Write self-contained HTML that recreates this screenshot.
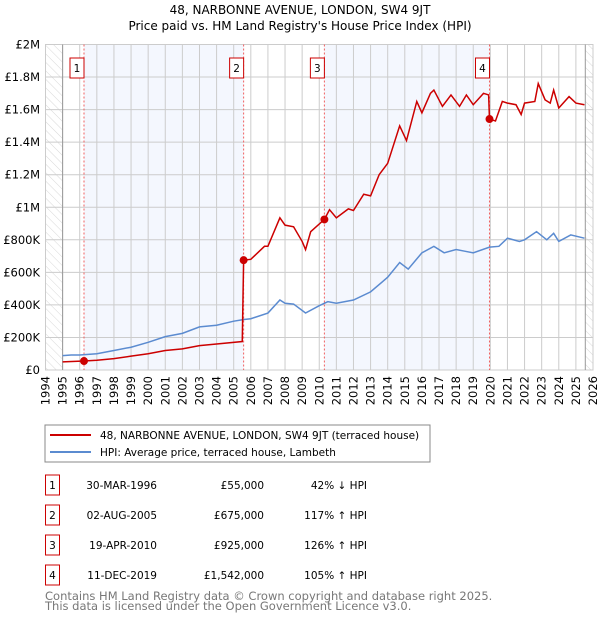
<!DOCTYPE html>
<html><head><meta charset="utf-8"><style>
body{margin:0;background:#fff;font-family:"DejaVu Sans","Liberation Sans",sans-serif;}
svg{display:block}
</style></head><body>
<svg id="c" width="600" height="620" xmlns="http://www.w3.org/2000/svg" font-family="DejaVu Sans, Liberation Sans, sans-serif">
<defs><pattern id="hatch" width="6" height="6" patternUnits="userSpaceOnUse" patternTransform="rotate(-45)"><line x1="0" y1="0" x2="0" y2="6" stroke="#d8d8d8" stroke-width="1"/></pattern></defs>
<text x="300" y="14" text-anchor="middle" font-size="12">48, NARBONNE AVENUE, LONDON, SW4 9JT</text>
<text x="300" y="30" text-anchor="middle" font-size="12">Price paid vs. HM Land Registry's House Price Index (HPI)</text>
<g id="plot"></g>
<rect x="45" y="425" width="385" height="37" fill="none" stroke="#888"/>
<line x1="50" y1="435" x2="91" y2="435" stroke="#cc0000" stroke-width="2"/>
<text x="100" y="439" font-size="10.5">48, NARBONNE AVENUE, LONDON, SW4 9JT (terraced house)</text>
<line x1="50" y1="452" x2="91" y2="452" stroke="#5b8bd0" stroke-width="2"/>
<text x="100" y="456" font-size="10.5">HPI: Average price, terraced house, Lambeth</text>
<g id="tbl" font-size="10.5"></g>
<text x="45" y="600" font-size="11.5" fill="#777">Contains HM Land Registry data © Crown copyright and database right 2025.</text>
<text x="45" y="610" font-size="11.5" fill="#777">This data is licensed under the Open Government Licence v3.0.</text>
</svg>
<script>
const hpiYears=[1995,1995.5,1996,1997,1998,1999,2000,2001,2002,2003,2004,2005,2005.6,2006,2007,2007.7,2008,2008.5,2009.2,2010,2010.5,2011,2012,2013,2014,2014.7,2015.2,2016,2016.7,2017.3,2018,2018.5,2019,2019.95,2020.5,2021,2021.7,2022,2022.7,2023.3,2023.7,2024,2024.7,2025.5];
const hpiValues=[88,92,92,100,120,140,170,205,225,265,275,300,310,315,350,430,410,405,350,395,420,410,430,480,570,660,620,720,760,720,740,730,720,755,760,810,790,800,850,800,840,790,830,810];
const priceYears=[1995,1996.25,1997,1998,1999,2000,2001,2002,2003,2004,2005.5,2005.58,2006,2006.8,2007,2007.7,2008,2008.5,2009,2009.2,2009.5,2010.3,2010.6,2011,2011.7,2012,2012.6,2013,2013.5,2014,2014.7,2015.1,2015.7,2016,2016.5,2016.7,2017.2,2017.7,2018.2,2018.6,2019,2019.6,2019.9,2019.95,2020.3,2020.7,2021,2021.5,2021.8,2022,2022.6,2022.8,2023.2,2023.5,2023.7,2024,2024.6,2025,2025.5];
const priceValues=[50,55,60,70,85,100,120,130,150,160,175,675,680,760,760,935,890,880,790,740,850,925,985,935,990,980,1080,1070,1200,1270,1500,1410,1650,1580,1700,1720,1620,1690,1620,1690,1630,1700,1690,1542,1530,1650,1640,1630,1570,1640,1650,1760,1660,1640,1720,1610,1680,1640,1630];
const saleLabels=["1","2","3","4"];
const saleYears=[1996.25,2005.58,2010.3,2019.95];
const saleValues=[55,675,925,1542];
const saleDates=["30-MAR-1996","02-AUG-2005","19-APR-2010","11-DEC-2019"];
const salePrices=["£55,000","£675,000","£925,000","£1,542,000"];
const saleHpi=["42% ↓ HPI","117% ↑ HPI","126% ↑ HPI","105% ↑ HPI"];
const yTicks=[0,200,400,600,800,1000,1200,1400,1600,1800,2000];
const yTickLabels=["£0","£200K","£400K","£600K","£800K","£1M","£1.2M","£1.4M","£1.6M","£1.8M","£2M"];
const xTicks=[1994,1995,1996,1997,1998,1999,2000,2001,2002,2003,2004,2005,2006,2007,2008,2009,2010,2011,2012,2013,2014,2015,2016,2017,2018,2019,2020,2021,2022,2023,2024,2025,2026];

const X0=45.5,X1=593,Y0=370,Y1=44.5;
const xs=y=>X0+(y-1994)/(2026-1994)*(X1-X0);
const ys=v=>Y0-v/2000*(Y0-Y1);
const NS="http://www.w3.org/2000/svg";
const plot=document.getElementById('plot');
function mk(tag,attrs,parent){const e=document.createElementNS(NS,tag);for(const k in attrs)e.setAttribute(k,attrs[k]);(parent||plot).appendChild(e);return e;}

let r;
r=mk('rect',{x:xs(1994),y:Y1,width:xs(1995)-xs(1994),height:Y0-Y1,fill:'url(#hatch)'});


r=mk('rect',{x:xs(2025.55),y:Y1,width:X1-xs(2025.55),height:Y0-Y1,fill:'url(#hatch)'});


for(let i=0;i<saleYears.length;i+=2){
  r=mk('rect',{x:xs(saleYears[i]),y:Y1,width:xs(saleYears[i+1])-xs(saleYears[i]),height:Y0-Y1,fill:'#f4f7fe'});
  
  
}
xTicks.forEach(t=>{
  const l=mk('line',{x1:xs(t),x2:xs(t),y1:Y1,y2:Y0,stroke:'#ccc'});
  
  
  const tx=mk('text',{x:0,y:0,'font-size':11.5,'text-anchor':'end',transform:`translate(${xs(t)+4},${Y0+6}) rotate(-90)`});
  tx.textContent=t;
  
  
});
yTicks.forEach((t,i)=>{
  const l=mk('line',{x1:X0,x2:X1,y1:ys(t),y2:ys(t),stroke:'#ccc'});
  
  
  const tx=mk('text',{x:40,y:ys(t)+4,'font-size':11.5,'text-anchor':'end'});
  tx.textContent=yTickLabels[i];
  
  
});
r=mk('rect',{x:X0,y:Y1,width:X1-X0,height:Y0-Y1,fill:'none',stroke:'#ccc'});


r=mk('line',{x1:xs(1995),x2:xs(1995),y1:Y1,y2:Y0,stroke:'#999'});


r=mk('line',{x1:xs(2025.55),x2:xs(2025.55),y1:Y1,y2:Y0,stroke:'#999'});



saleYears.forEach((s,i)=>{
  const l=mk('line',{x1:xs(s),x2:xs(s),y1:Y1,y2:Y0,stroke:'#f06060','stroke-dasharray':'2,2'});
  
  
});

const hp=mk('polyline',{points:hpiYears.map((y,i)=>xs(y)+','+ys(hpiValues[i])).join(' '),fill:'none',stroke:'#5b8bd0','stroke-width':1.5});


const pp=mk('polyline',{points:priceYears.map((y,i)=>xs(y)+','+ys(priceValues[i])).join(' '),fill:'none',stroke:'#cc0000','stroke-width':1.5});



saleYears.forEach((s,i)=>{
  const c=mk('circle',{cx:xs(s),cy:ys(saleValues[i]),r:4,fill:'#cc0000'});
  
  
  const bx=xs(s)-14;
  const b=mk('rect',{x:bx,y:58,width:14,height:20,fill:'#fff',stroke:'#cc0000'});
  
  
  const t=mk('text',{x:bx+7,y:72,'font-size':10.5,'text-anchor':'middle'});
  t.textContent=saleLabels[i];
  
  
});

const tbl=document.getElementById('tbl');
saleLabels.forEach((lab,i)=>{
  const y=485+i*30;
  const b=mk('rect',{x:45.5,y:y-10,width:14,height:20,fill:'#fff',stroke:'#cc0000'},tbl);
  
  
  const cells=[[52.5,lab,'middle','table-index'],[157,saleDates[i],'end','table-date'],[264,salePrices[i],'end','table-price'],[367,saleHpi[i],'end','table-hpi']];
  cells.forEach(c=>{
    const t=mk('text',{x:c[0],y:y+4,'text-anchor':c[2]},tbl);
    t.textContent=c[1];
    
    
  });
});
</script>
</body></html>
